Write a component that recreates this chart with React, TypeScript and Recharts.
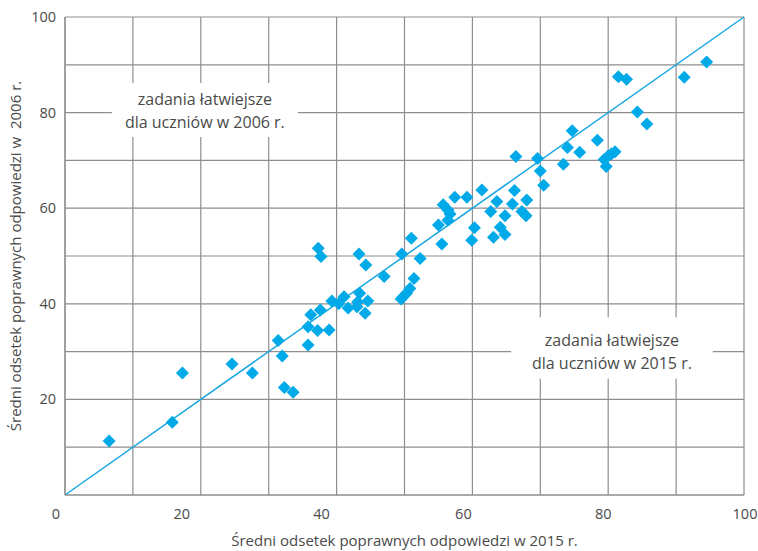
import {
  CartesianGrid,
  ReferenceArea,
  ReferenceLine,
  Scatter,
  ScatterChart,
  XAxis,
  YAxis
} from "recharts";

// mean share of correct answers per task, 2015 (x) vs 2006 (y)
const score2015 = [
  6.5, 15.8, 17.3, 24.6, 27.6, 31.4, 32.0, 32.3, 33.6, 35.8,
  35.8, 36.2, 37.2, 37.6, 38.9, 37.3, 37.7, 39.3, 40.3, 41.1,
  41.7, 43.0, 43.4, 43.1, 44.6, 44.2, 43.3, 44.3, 47.0, 49.6,
  51.0, 52.3, 51.4, 50.8, 50.3, 49.8, 49.5, 55.0, 55.5, 55.7,
  56.4, 56.7, 56.4, 57.4, 59.2, 61.4, 60.3, 59.9, 63.1, 64.1,
  64.8, 63.6, 62.7, 64.8, 65.9, 66.2, 68.0, 67.3, 67.9, 70.5,
  66.4, 69.6, 70.0, 73.4, 74.0, 74.7, 75.8, 78.4, 79.4, 79.7,
  80.0, 80.5, 81.0, 81.5, 82.7, 84.3, 85.7, 91.2, 94.5
];
const score2006 = [
  11.3, 15.2, 25.5, 27.4, 25.5, 32.3, 29.1, 22.5, 21.5, 31.4,
  35.2, 37.7, 34.4, 38.7, 34.5, 51.6, 49.9, 40.6, 40.0, 41.5,
  39.1, 39.4, 42.2, 40.4, 40.6, 38.0, 50.4, 48.1, 45.7, 50.4,
  53.7, 49.5, 45.3, 43.2, 42.2, 41.5, 41.0, 56.5, 52.5, 60.7,
  59.6, 58.8, 57.5, 62.3, 62.3, 63.8, 55.9, 53.3, 53.9, 56.0,
  54.5, 61.4, 59.3, 58.4, 60.9, 63.7, 61.7, 59.3, 58.4, 64.8,
  70.8, 70.4, 67.8, 69.2, 72.7, 76.2, 71.7, 74.2, 70.2, 68.7,
  70.9, 71.4, 71.8, 87.5, 87.0, 80.1, 77.6, 87.4, 90.6
];

const gridTicks = [0, 10, 20, 30, 40, 50, 60, 70, 80, 90, 100];
const xLabels = [0, 20, 40, 60, 80, 100];
const yLabels = [20, 40, 60, 80, 100];

const note2006 = ["zadania łatwiejsze", "dla uczniów w 2006 r."];
const note2015 = ["zadania łatwiejsze", "dla uczniów w 2015 r."];

const xTitle = "Średni odsetek poprawnych odpowiedzi w 2015 r.";
const yTitle = "Średni odsetek poprawnych odpowiedzi w\u00a0 2006 r.";

const points = score2015.map((x, i) => ({ x, y: score2006[i] }));

const FONT = "'Open Sans', sans-serif";
const TEXT = "#4a4a4a";
const GRID = "#8e8e8e";
const BLUE = "#00a9e8";

// labels in the original sit a bit left of their grid lines
const xShift: Record<number, number> = { 0: -9, 20: -19, 40: -15, 60: -9, 80: -5, 100: 1 };

function XTick({ x, y, payload }: any) {
  const v = payload.value;
  if (!xLabels.includes(v)) return <g />;
  return (
    <text x={x + (xShift[v] ?? 0)} y={y + 24} textAnchor="middle" fontFamily={FONT} fontSize={14.5} fill={TEXT}>
      {v}
    </text>
  );
}

function YTick({ x, y, payload }: any) {
  const v = payload.value;
  if (!yLabels.includes(v)) return <g />;
  return (
    <text x={x - 9} y={y + 5} textAnchor="end" fontFamily={FONT} fontSize={14.5} fill={TEXT}>
      {v}
    </text>
  );
}

function XTitle({ viewBox }: any) {
  const cx = viewBox.x + viewBox.width / 2;
  return (
    <text x={cx} y={546} textAnchor="middle" fontFamily={FONT} fontSize={15} fill={TEXT}>
      {xTitle}
    </text>
  );
}

function YTitle({ viewBox }: any) {
  const cx = 15;
  const cy = viewBox.y + viewBox.height / 2;
  return (
    <text
      x={cx}
      y={cy}
      transform={`rotate(-90 ${cx} ${cy})`}
      textAnchor="middle"
      dominantBaseline="central"
      fontFamily={FONT}
      fontSize={15}
      fill={TEXT}
      style={{ whiteSpace: "pre" }}
    >
      {yTitle}
    </text>
  );
}

function BoxNote({ viewBox, lines, top }: any) {
  const cx = viewBox.x + viewBox.width / 2;
  return (
    <text textAnchor="middle" fontFamily={FONT} fontSize={16} fill={TEXT}>
      {lines.map((t: string, i: number) => (
        <tspan key={i} x={cx} y={viewBox.y + top + i * 23}>
          {t}
        </tspan>
      ))}
    </text>
  );
}

function Diamond({ cx, cy }: any) {
  const r = 6.5;
  return <polygon points={`${cx},${cy - r} ${cx + r},${cy} ${cx},${cy + r} ${cx - r},${cy}`} fill={BLUE} />;
}

export default function App() {
  return (
    <div style={{ position: "absolute", left: 0, top: 0 }}>
      <ScatterChart width={758} height={551} margin={{ top: 17, right: 14, left: 0, bottom: 0 }}>
        <CartesianGrid stroke={GRID} strokeWidth={1.2} />
        <XAxis
          type="number"
          dataKey="x"
          domain={[0, 100]}
          ticks={gridTicks}
          height={56}
          tickSize={0}
          tickMargin={0}
          tick={<XTick />}
          axisLine={{ stroke: GRID, strokeWidth: 1.2 }}
          label={<XTitle />}
        />
        <YAxis
          type="number"
          dataKey="y"
          domain={[0, 100]}
          ticks={gridTicks}
          width={65}
          tickSize={0}
          tickMargin={0}
          tick={<YTick />}
          axisLine={{ stroke: GRID, strokeWidth: 1.2 }}
          label={<YTitle />}
        />
        <ReferenceArea x1={6.9} x2={34.3} y1={74.9} y2={86.2} fill="#fff" fillOpacity={1} stroke="none" label={<BoxNote lines={note2006} top={22} />} />
        <ReferenceArea x1={65.7} x2={95.4} y1={24.3} y2={37.2} fill="#fff" fillOpacity={1} stroke="none" label={<BoxNote lines={note2015} top={29} />} />
        <ReferenceLine segment={[{ x: 0, y: 0 }, { x: 100, y: 100 }]} stroke="#17a6e2" strokeWidth={1.5} />
        <Scatter data={points} shape={<Diamond />} isAnimationActive={false} />
      </ScatterChart>
    </div>
  );
}
